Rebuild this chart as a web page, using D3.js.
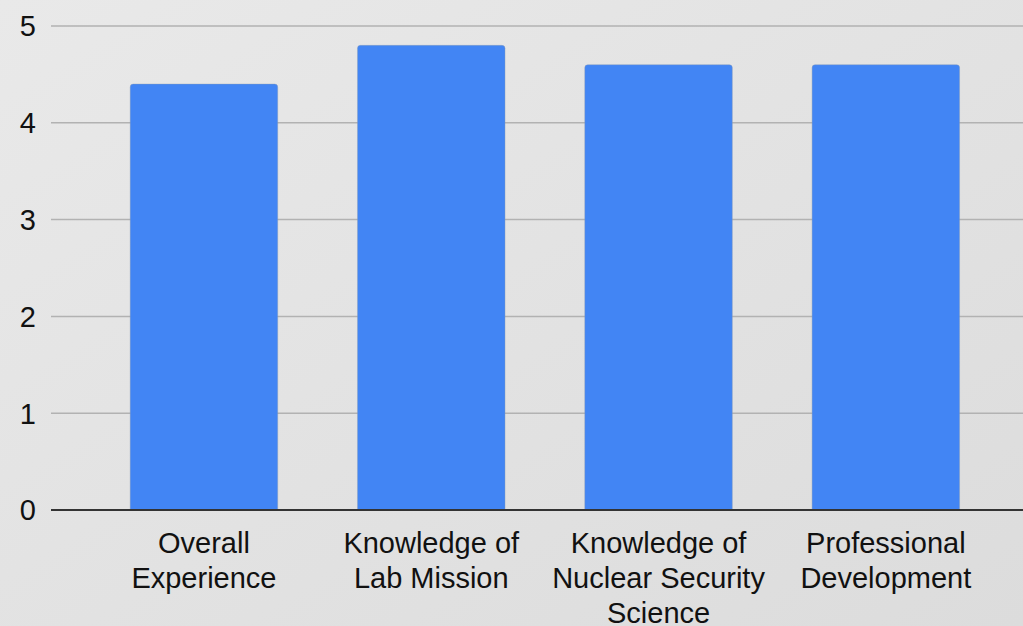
<!DOCTYPE html>
<html>
<head>
<meta charset="utf-8">
<script src="https://cdn.jsdelivr.net/npm/d3@7"></script>
<style>
  html, body { margin: 0; padding: 0; overflow: hidden; }
  svg text { font-family: Arial, "Liberation Sans", Arimo, sans-serif; }
</style>
</head>
<body>
<svg id="chart" width="1023" height="626"></svg>
<script>
const categories = ["Overall\nExperience", "Knowledge of\nLab Mission", "Knowledge of\nNuclear Security\nScience", "Professional\nDevelopment"];
const scores = [4.4, 4.8, 4.6, 4.6];
const yTicks = [0, 1, 2, 3, 4, 5];

const W = 1023, H = 626;
const svg = d3.select('#chart');

// background gradient
const defs = svg.append('defs');
const grad = defs.append('linearGradient')
    .attr('id', 'bg')
    .attr('x1', '0%').attr('y1', '0%')
    .attr('x2', '100%').attr('y2', '100%');
grad.append('stop').attr('offset', '0%').attr('stop-color', '#e9e9e9');
grad.append('stop').attr('offset', '100%').attr('stop-color', '#dcdcdc');
svg.append('rect').attr('width', W).attr('height', H).attr('fill', 'url(#bg)');

const y = d3.scaleLinear().domain([0, 5]).range([510, 26]);
const x = d3.scaleBand()
    .domain(categories)
    .range([90.3, 999.5])
    .paddingInner(0.351)
    .paddingOuter(0.1755);

// grid
svg.append('g')
  .selectAll('line')
    .data(yTicks.filter(d => d > 0))
    .enter().append('line')
    .attr('x1', 51)
    .attr('x2', W)
    .attr('y1', d => y(d))
    .attr('y2', d => y(d))
    .attr('stroke', '#b2b2b2')
    .attr('stroke-width', 1.5);

// y labels
svg.append('g')
  .selectAll('text')
    .data(yTicks)
    .enter().append('text')
    .attr('x', 36)
    .attr('y', d => y(d))
    .attr('dy', '0.36em')
    .attr('text-anchor', 'end')
    .attr('font-size', 29)
    .attr('fill', '#111')
    .text(d => d);

// bars with rounded tops
const r = 3;
svg.append('g')
  .selectAll('path')
    .data(scores)
    .enter().append('path')
    .attr('d', (d, i) => {
      const x0 = x(categories[i]), x1 = x0 + x.bandwidth();
      const top = y(d), bot = y(0);
      return `M${x0},${bot}V${top + r}Q${x0},${top} ${x0 + r},${top}H${x1 - r}Q${x1},${top} ${x1},${top + r}V${bot}Z`;
    })
    .attr('fill', '#4285f4')
    .attr('stroke', '#8a9ab5')
    .attr('stroke-opacity', 0.5)
    .attr('stroke-width', 0.8);

// zero line
svg.append('line')
    .attr('x1', 51)
    .attr('x2', W)
    .attr('y1', y(0))
    .attr('y2', y(0))
    .attr('stroke', '#333')
    .attr('stroke-width', 2);

// category labels
const labels = svg.append('g')
  .selectAll('text')
    .data(categories)
    .enter().append('text')
    .attr('text-anchor', 'middle')
    .attr('font-size', 29)
    .attr('fill', '#111')
    .attr('transform', d => `translate(${x(d) + x.bandwidth() / 2},553)`);

labels.selectAll('tspan')
    .data(d => d.split('\n'))
    .enter().append('tspan')
    .attr('x', 0)
    .attr('y', (d, i) => i * 35)
    .text(d => d);
</script>
</body>
</html>
